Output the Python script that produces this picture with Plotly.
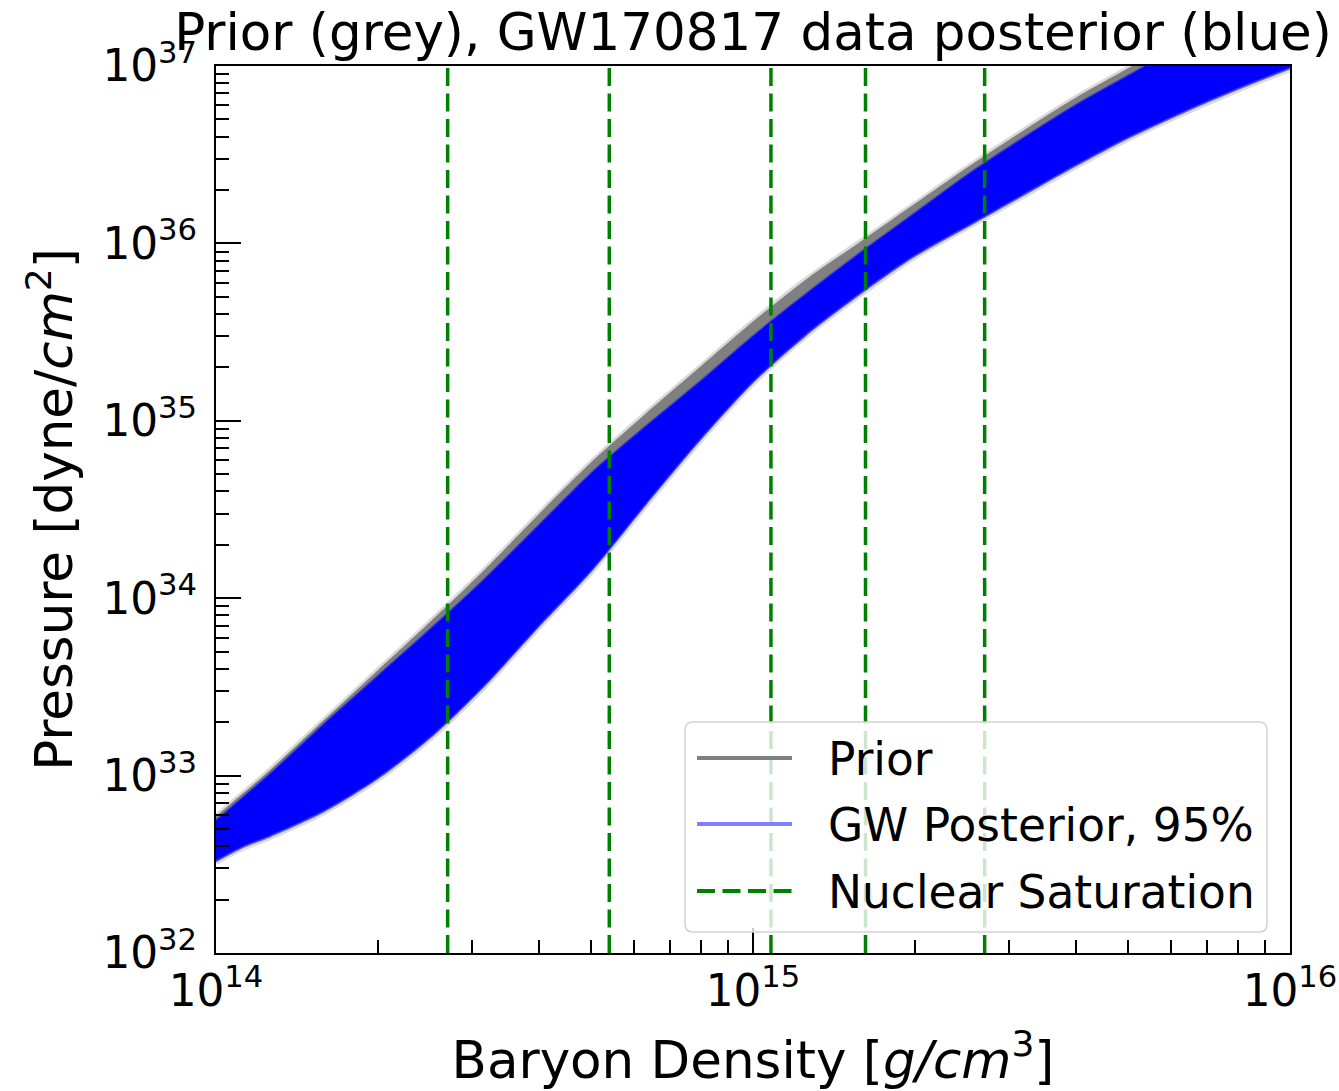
import numpy as np
import plotly.graph_objects as go

# ---------------- data (log10 values) ----------------
log_density = [14.0, 14.05, 14.1, 14.2, 14.3, 14.4, 14.5, 14.6, 14.7, 14.8, 14.9,
               15.0, 15.1, 15.2, 15.3, 15.4, 15.5, 15.6, 15.7, 15.8, 15.9, 16.0]

# GW posterior (95%) envelope, log10 pressure
post_upper = [32.75, 32.88, 33.01, 33.29, 33.56, 33.83, 34.11, 34.41, 34.71, 34.97, 35.22,
              35.48, 35.72, 35.95, 36.17, 36.39, 36.59, 36.78, 36.95, 37.12, 37.28, 37.43]
post_lower = [32.52, 32.60, 32.66, 32.80, 32.985, 33.22, 33.51, 33.84, 34.16, 34.53, 34.89,
              35.22, 35.49, 35.72, 35.93, 36.10, 36.27, 36.44, 36.60, 36.74, 36.87, 36.99]

# prior envelope, log10 pressure
prior_upper = [32.77, 32.90, 33.03, 33.31, 33.59, 33.87, 34.16, 34.47, 34.77, 35.04, 35.30,
               35.56, 35.80, 36.01, 36.22, 36.43, 36.63, 36.82, 36.99, 37.16, 37.32, 37.47]
prior_lower = [32.51, 32.59, 32.65, 32.79, 32.975, 33.21, 33.50, 33.83, 34.15, 34.52, 34.88,
               35.21, 35.48, 35.71, 35.92, 36.09, 36.26, 36.43, 36.59, 36.73, 36.86, 36.98]

n_sat = 2.7e14
sat_multiples = [1, 2, 4, 6, 10]

x_range = [14, 16.00001]
y_range = [32, 37.00001]

title_text = "Prior (grey), GW170817 data posterior (blue)"
x_title = "Baryon Density [<i>g/cm</i><sup>3</sup>]"
y_title = "Pressure [dyne/<i>cm</i><sup>2</sup>]"
legend_labels = ["Prior", "GW Posterior, 95%", "Nuclear Saturation"]

# ---------------- figure ----------------
FONT = "DejaVu Sans"
dens = [10.0 ** v for v in log_density]

def to_p(vals):
    return [10.0 ** v for v in vals]

fig = go.Figure()

def add_band(upper, lower, fillcolor, edgecolor, edgewidth):
    fig.add_trace(go.Scatter(x=dens, y=to_p(lower), mode="lines",
                             line=dict(color=edgecolor, width=edgewidth,
                                       shape="spline", smoothing=0.8),
                             hoverinfo="skip", showlegend=False))
    fig.add_trace(go.Scatter(x=dens, y=to_p(upper), mode="lines", fill="tonexty",
                             fillcolor=fillcolor,
                             line=dict(color=edgecolor, width=edgewidth,
                                       shape="spline", smoothing=0.8),
                             hoverinfo="skip", showlegend=False))

# prior band (grey), then GW posterior band (blue)
add_band(prior_upper, prior_lower, "rgb(128,128,128)", "rgba(128,128,128,0.3)", 5)
add_band(post_upper, post_lower, "rgb(0,0,255)", "rgba(40,40,255,0.5)", 2)

# nuclear saturation lines
for m in sat_multiples:
    v = n_sat * m
    fig.add_trace(go.Scatter(x=[v, v], y=[10.0 ** 32, 10.0 ** 37],
                             mode="lines",
                             line=dict(color="rgb(0,128,0)", width=3.5, dash="18px,7.5px"),
                             hoverinfo="skip", showlegend=False))

# ---------------- layout ----------------
W, H = 1339, 1091
ml, mr, mt, mb = 216, 49, 66, 138

axis_common = dict(
    type="log", dtick=1, exponentformat="power", showexponent="all",
    showline=True, linecolor="black", linewidth=2, mirror=True,
    ticks="inside", ticklen=25, tickwidth=2, tickcolor="black",
    minor=dict(ticks="inside", ticklen=13, tickwidth=1.6, tickcolor="black",
               dtick="D1", showgrid=False),
    showgrid=False, zeroline=False, automargin=False,
    tickfont=dict(family=FONT, size=35, color="black"),
)

fig.update_layout(
    width=W, height=H,
    margin=dict(l=ml, r=mr, t=mt, b=mb, pad=0, autoexpand=False),
    paper_bgcolor="white", plot_bgcolor="white",
    font=dict(family=FONT, color="black"),
    title=dict(text=title_text, x=0.5, xref="paper", xanchor="center",
               y=1 - 32 / H, yref="container", yanchor="middle",
               font=dict(family=FONT, size=51.5, color="black")),
    xaxis=dict(range=x_range, **axis_common,
               title=dict(text=x_title, font=dict(family=FONT, size=51.5), standoff=27)),
    yaxis=dict(range=y_range, **axis_common, ticklabelstandoff=10,
               title=dict(text=y_title, font=dict(family=FONT, size=51.5), standoff=13)),
    showlegend=False,
)

# ---------------- manual legend (matplotlib style) ----------------
pw, ph = W - ml - mr, H - mt - mb
def fx(p):
    return (p - ml) / pw
def fy(p):
    return (H - mb - p) / ph

x0, x1, y0, y1 = fx(685), fx(1267), fy(932), fy(722)
rx, ry = 8 / pw, 8 / ph
path = (f"M {x0+rx},{y0} L {x1-rx},{y0} Q {x1},{y0} {x1},{y0+ry} "
        f"L {x1},{y1-ry} Q {x1},{y1} {x1-rx},{y1} L {x0+rx},{y1} "
        f"Q {x0},{y1} {x0},{y1-ry} L {x0},{y0+ry} Q {x0},{y0} {x0+rx},{y0} Z")
fig.add_shape(type="path", path=path, xref="paper", yref="paper", layer="above",
              fillcolor="rgba(255,255,255,0.8)", line=dict(color="rgb(210,210,210)", width=1.5))

leg_styles = [dict(color="rgb(128,128,128)", width=4),
              dict(color="rgb(128,128,255)", width=4),
              dict(color="rgb(0,128,0)", width=4, dash="18px,7.5px")]
leg_rows = [758, 824, 891]
for lab, st, r in zip(legend_labels, leg_styles, leg_rows):
    fig.add_shape(type="line", xref="paper", yref="paper", layer="above",
                  x0=fx(697), x1=fx(792), y0=fy(r), y1=fy(r), line=st)
    fig.add_annotation(text=lab, xref="paper", yref="paper", x=fx(826), y=fy(r + 1),
                       xanchor="left", yanchor="middle", showarrow=False,
                       font=dict(family=FONT, size=45.5, color="black"))

fig.write_html("out.html")
